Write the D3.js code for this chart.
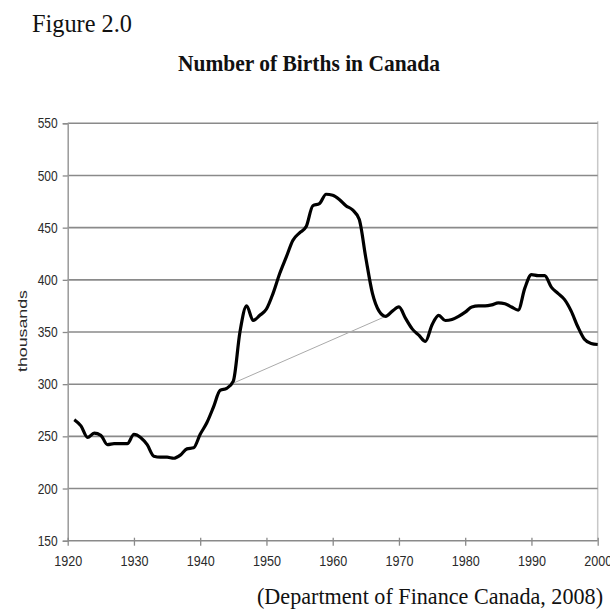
<!DOCTYPE html>
<html lang="en">
<head>
	<meta charset="utf-8">
	<title>Number of Births in Canada</title>
	<script src="https://d3js.org/d3.v7.min.js"></script>
	<style>
		body { margin: 0; background: #fff; }
		svg { display: block; }
	</style>
</head>
<body>
	<script>
		// years and births (thousands)
		var years = [1921, 1922, 1923, 1924, 1925, 1926, 1927, 1928, 1929, 1930,
			1931, 1932, 1933, 1934, 1935, 1936, 1937, 1938, 1939, 1940,
			1941, 1942, 1943, 1944, 1945, 1946, 1947, 1948, 1949, 1950,
			1951, 1952, 1953, 1954, 1955, 1956, 1957, 1958, 1959, 1960,
			1961, 1962, 1963, 1964, 1965, 1966, 1967, 1968, 1969, 1970,
			1971, 1972, 1973, 1974, 1975, 1976, 1977, 1978, 1979, 1980,
			1981, 1982, 1983, 1984, 1985, 1986, 1987, 1988, 1989, 1990,
			1991, 1992, 1993, 1994, 1995, 1996, 1997, 1998, 1999, 2000];
		var births = [266, 260, 249, 253, 251, 242, 243, 243, 243, 252,
			249, 242, 231, 230, 230, 229, 232, 238, 239, 252,
			263, 278, 294, 296, 303, 350, 375, 361, 366, 372,
			387, 406, 422, 438, 445, 451, 471, 473, 482, 481,
			477, 471, 467, 458, 421, 387, 370, 365, 370, 374,
			363, 353, 347, 341, 357, 366, 361, 362, 365, 369,
			374, 375, 375, 376, 378, 377, 374, 371, 392, 405,
			404, 404, 393, 387, 381, 370, 355, 343, 339, 338];

		// thin grey line drawn across the post-war jump
		var trendYears = [1945, 1968];
		var trendValues = [301, 365];

		var xTicks = [1920, 1930, 1940, 1950, 1960, 1970, 1980, 1990, 2000];
		var yTicks = [150, 200, 250, 300, 350, 400, 450, 500, 550];

		var width = 610;
		var height = 616;

		var svg = d3.select("body")
			.append("svg")
			.attr("width", width)
			.attr("height", height);

		var x = d3.scaleLinear().domain([1920, 2000]).range([67.7, 597.7]);
		var y = d3.scaleLinear().domain([150, 550]).range([540.7, 123.3]);

		var left = x.range()[0], right = x.range()[1];

		// right border of the plot area
		svg.append("line")
			.attr("x1", right).attr("x2", right)
			.attr("y1", y(550) - 2).attr("y2", y(150))
			.attr("stroke", "#c8c8c8")
			.attr("stroke-width", 1.5);

		// gridlines
		svg.append("g")
			.selectAll("line")
			.data(yTicks)
			.enter().append("line")
				.attr("x1", left).attr("x2", right)
				.attr("y1", function(d) { return y(d); })
				.attr("y2", function(d) { return y(d); })
				.attr("stroke", "#8a8a8a")
				.attr("stroke-width", 1.6);

		// y axis
		var yAxis = svg.append("g")
			.attr("transform", "translate(" + left + ",0)")
			.call(d3.axisLeft(y).tickValues(yTicks).tickSize(5).tickPadding(5).tickFormat(d3.format("d")));
		yAxis.select(".domain").attr("stroke", "#9a9a9a").attr("stroke-width", 1.5);
		yAxis.selectAll(".tick line").attr("stroke", "#8a8a8a").attr("stroke-width", 1.3);
		yAxis.selectAll(".tick text")
			.attr("font-family", "'Liberation Sans', Arial, sans-serif")
			.attr("font-size", 14.5)
			.attr("fill", "#2a2a2a")
			.attr("textLength", 20)
			.attr("lengthAdjust", "spacingAndGlyphs");

		// x axis
		var xAxis = svg.append("g")
			.attr("transform", "translate(0," + y(150) + ")")
			.call(d3.axisBottom(x).tickValues(xTicks).tickSize(5).tickPadding(10).tickFormat(d3.format("d")));
		xAxis.select(".domain").remove();
		xAxis.selectAll(".tick line").attr("stroke", "#8a8a8a").attr("stroke-width", 1.3).attr("y1", -3);
		xAxis.selectAll(".tick text")
			.attr("font-family", "'Liberation Sans', Arial, sans-serif")
			.attr("font-size", 14.5)
			.attr("fill", "#2a2a2a")
			.attr("textLength", 28)
			.attr("lengthAdjust", "spacingAndGlyphs");

		// y axis title
		svg.append("text")
			.attr("transform", "translate(27,331) rotate(-90)")
			.attr("text-anchor", "middle")
			.attr("font-family", "'Liberation Sans', Arial, sans-serif")
			.attr("font-size", 12.5)
			.attr("fill", "#2a2a2a")
			.attr("textLength", 82)
			.attr("lengthAdjust", "spacingAndGlyphs")
			.text("thousands");

		// thin grey connector
		var trendLine = d3.line()
			.x(function(d, i) { return x(trendYears[i]); })
			.y(function(d) { return y(d); });
		svg.append("path")
			.attr("d", trendLine(trendValues))
			.attr("fill", "none")
			.attr("stroke", "#aaa")
			.attr("stroke-width", 1);

		// births line
		var line = d3.line()
			.x(function(d, i) { return x(years[i]); })
			.y(function(d) { return y(d); })
			.curve(d3.curveMonotoneX);
		svg.append("path")
			.attr("d", line(births))
			.attr("fill", "none")
			.attr("stroke", "#000")
			.attr("stroke-width", 3.2)
			.attr("stroke-linejoin", "round");

		// titles
		svg.append("text")
			.attr("x", 32).attr("y", 32)
			.attr("font-family", "'Liberation Serif', 'Times New Roman', serif")
			.attr("font-size", 26)
			.attr("fill", "#111")
			.attr("textLength", 100)
			.attr("lengthAdjust", "spacingAndGlyphs")
			.text("Figure 2.0");

		svg.append("text")
			.attr("x", 178).attr("y", 71)
			.attr("font-family", "'Liberation Serif', 'Times New Roman', serif")
			.attr("font-size", 23)
			.attr("font-weight", "bold")
			.attr("fill", "#111")
			.attr("textLength", 262)
			.attr("lengthAdjust", "spacingAndGlyphs")
			.text("Number of Births in Canada");

		svg.append("text")
			.attr("x", 257).attr("y", 604)
			.attr("font-family", "'Liberation Serif', 'Times New Roman', serif")
			.attr("font-size", 22.5)
			.attr("fill", "#111")
			.attr("textLength", 346)
			.attr("lengthAdjust", "spacingAndGlyphs")
			.text("(Department of Finance Canada, 2008)");
	</script>
</body>
</html>
